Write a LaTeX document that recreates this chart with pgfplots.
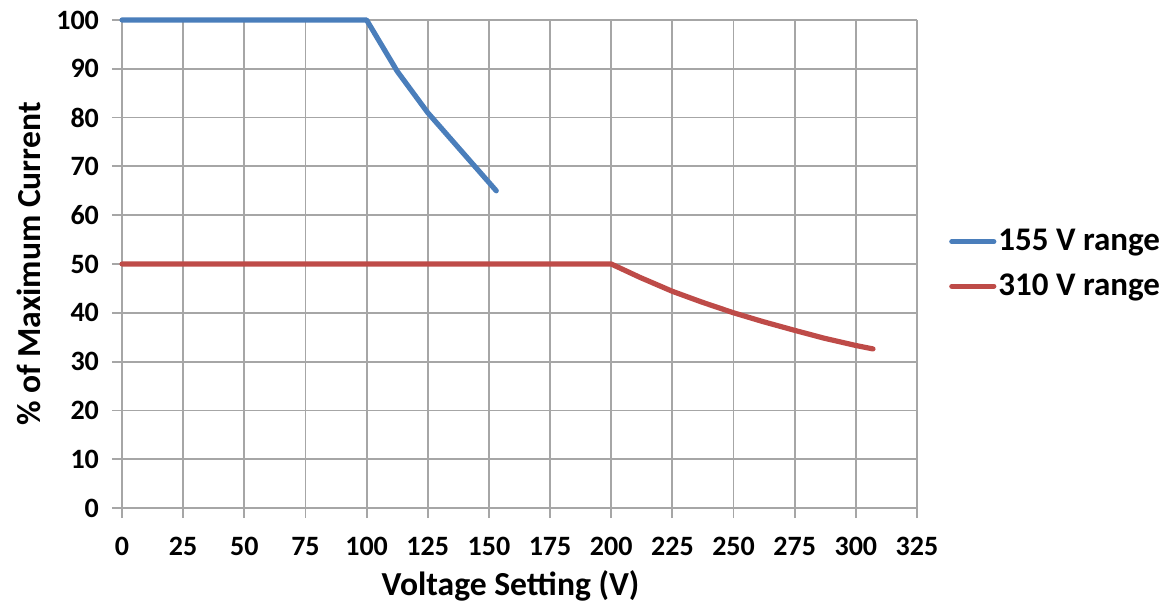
\documentclass[border=0pt]{standalone}
\usepackage{fontspec}
\setmainfont{Carlito}
\usepackage{pgfplots}
\pgfplotsset{compat=1.18}
\definecolor{eblue}{HTML}{4A7EBB}
\definecolor{ered}{HTML}{BE4B48}
\definecolor{egrid}{HTML}{A6A6A6}
\begin{document}
\begin{tikzpicture}
\begin{axis}[
  name=ax,
  scale only axis,
  width=397.5pt, height=244pt,
  xmin=0, xmax=325, ymin=0, ymax=100,
  xtick={0,25,...,325}, ytick={0,10,...,100},
  grid=major,
  major grid style={egrid, line width=0.9pt},
  axis line style={egrid, line width=0.9pt},
  axis x line*=bottom, axis y line*=left,
  tick style={egrid, line width=0.9pt},
  tick align=outside,
  major tick length=5pt,
  /pgf/number format/assume math mode=true,
  ticklabel style={font=\fontsize{14pt}{16pt}\selectfont\bfseries},
  xticklabel style={yshift=-6pt},
  yticklabel style={xshift=-3pt},
  label style={font=\fontsize{16.8pt}{19pt}\selectfont\bfseries},
  xlabel={Voltage Setting (V)},
  ylabel={\% of Maximum Current},
  xlabel style={yshift=-0.5pt, xshift=-4.5pt},
  ylabel style={yshift=1pt},
  clip=false,
  legend style={at={(1.04,0.5)}, anchor=west, draw=none, fill=none,
    font=\fontsize{16.5pt}{18pt}\selectfont\bfseries,
    row sep=6pt, inner sep=0pt,
    nodes={inner xsep=1pt}},
  legend cell align=left,
  legend image code/.code={\draw[#1, line cap=round] (0pt,0pt) -- (21pt,0pt);},
]
\addplot[eblue, line width=2.6pt, line cap=round, line join=round] coordinates {
(0,100) (100,100) (112.5,89.5) (125,81.0) (153,65.0)};
\addlegendentry{155 V range}
\addplot[ered, line width=2.6pt, line cap=round, line join=round] coordinates {
(0,50) (200,50) (212,47.2) (225,44.4) (237,42.2) (250,40.0) (262,38.2) (275,36.4) (287,34.8) (300,33.3) (307,32.6)};
\addlegendentry{310 V range}
\end{axis}
\pgfresetboundingbox
\path[use as bounding box] ([shift={(-61pt,-51pt)}]ax.south west) rectangle ([shift={(521.5pt,254pt)}]ax.south west);
\end{tikzpicture}
\end{document}
